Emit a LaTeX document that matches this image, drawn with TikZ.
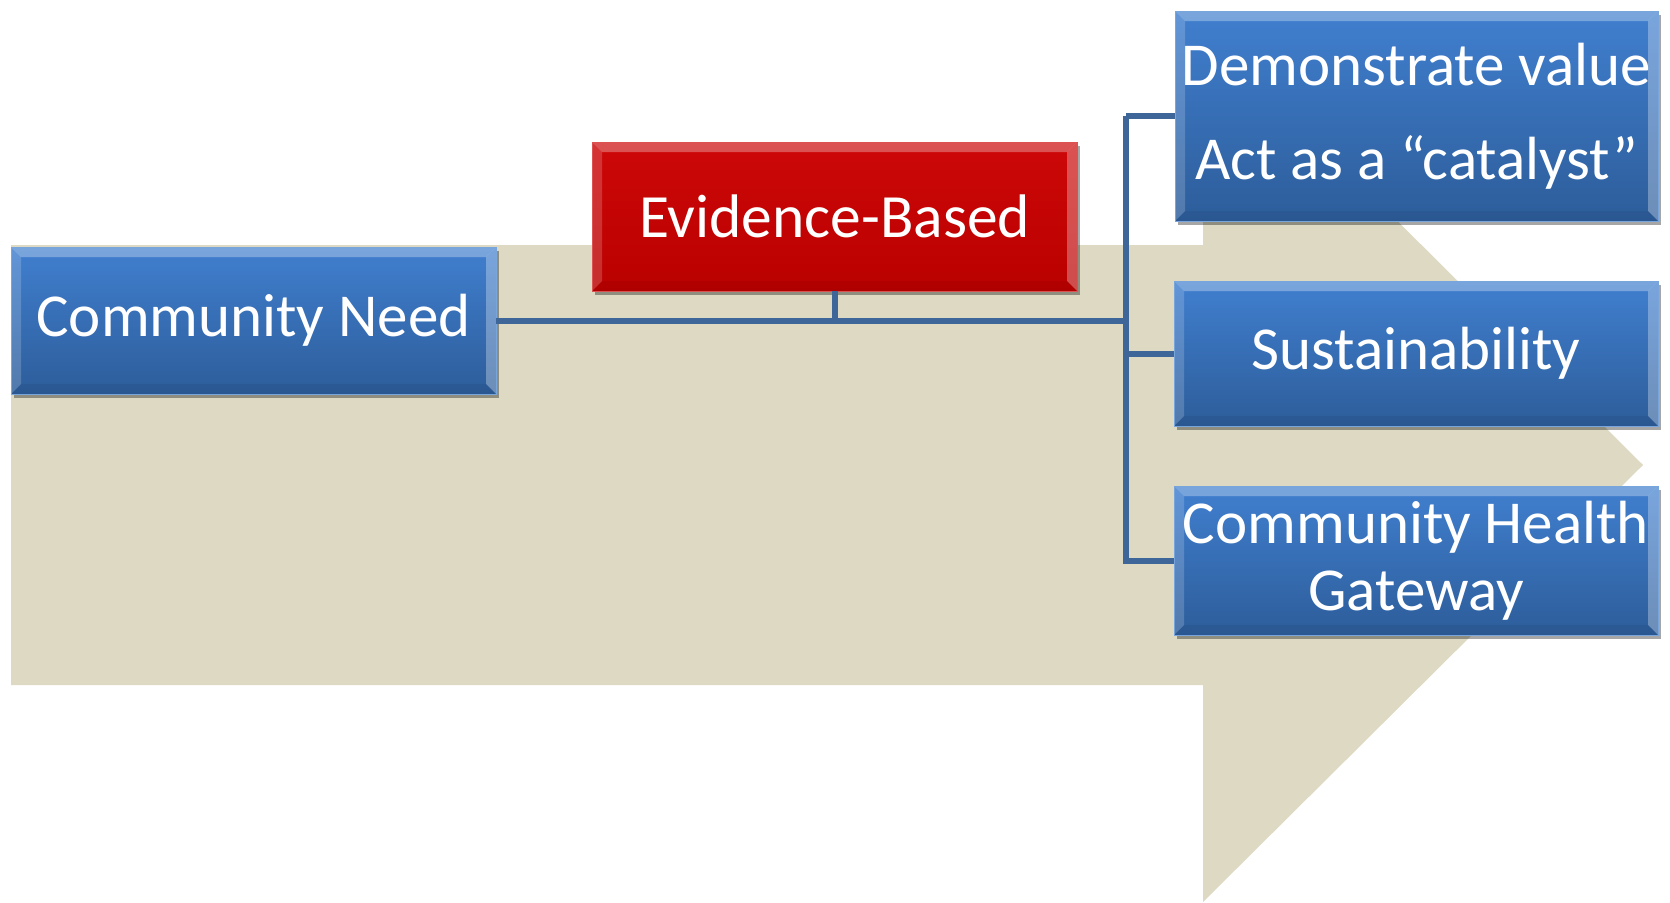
\documentclass[tikz,border=0pt]{standalone}
\usepackage{fontspec}
\setmainfont{Carlito}
\usetikzlibrary{shadows}
\definecolor{tanfill}{RGB}{221,217,195}
\definecolor{boxtop}{RGB}{64,127,207}
\definecolor{boxbot}{RGB}{45,93,154}
\definecolor{redtop}{RGB}{205,8,8}
\definecolor{redbot}{RGB}{186,0,0}
\definecolor{connc}{RGB}{62,102,152}
\tikzset{
  bevel/.style={path picture={
    \fill[white,opacity=0.30] (path picture bounding box.north west) -- (path picture bounding box.north east)
       -- ([xshift=-10pt,yshift=-10pt]path picture bounding box.north east) -- ([xshift=10pt,yshift=-10pt]path picture bounding box.north west) -- cycle;
    \fill[white,opacity=0.18] (path picture bounding box.north west) -- ([xshift=10pt,yshift=-10pt]path picture bounding box.north west)
       -- ([xshift=10pt,yshift=10pt]path picture bounding box.south west) -- (path picture bounding box.south west) -- cycle;
    \fill[white,opacity=0.30] (path picture bounding box.north east) -- ([xshift=-10pt,yshift=-10pt]path picture bounding box.north east)
       -- ([xshift=-10pt,yshift=10pt]path picture bounding box.south east) -- (path picture bounding box.south east) -- cycle;
    \fill[black,opacity=0.06] (path picture bounding box.south west) -- (path picture bounding box.south east)
       -- ([xshift=-10pt,yshift=10pt]path picture bounding box.south east) -- ([xshift=10pt,yshift=10pt]path picture bounding box.south west) -- cycle;
  }},
  basebox/.style={rectangle, inner sep=0pt, align=center, text=white,
    font=\fontsize{61}{72}\selectfont, bevel,
    drop shadow={shadow xshift=3pt, shadow yshift=-4pt, opacity=0.35, fill=black}},
  bluebox/.style={basebox, top color=boxtop, bottom color=boxbot, draw=boxtop!70!white, line width=0.8pt},
  redbox/.style={basebox, top color=redtop, bottom color=redbot, draw=redtop!70!white, line width=0.8pt},
  conn/.style={draw=connc, line width=6pt},
}
\begin{document}
\begin{tikzpicture}[x=1pt,y=-1pt]
\useasboundingbox (0,0) rectangle (1670,902);
% big background arrow
\fill[tanfill] (11,245) -- (1203,245) -- (1203,28) -- (1643,465) -- (1203,902) -- (1203,685) -- (11,685) -- cycle;

\coordinate (bus) at (1126,320.5);

\node[bluebox, minimum width=485pt, minimum height=147pt] (cn) at (253.5,320.5) {Community Need};
\node[redbox, minimum width=485pt, minimum height=149pt, font=\fontsize{61.5}{72}\selectfont] (eb) at (834.5,216.5) {Evidence-Based};
\node[bluebox, minimum width=483pt, minimum height=210pt, font=\fontsize{61}{94}\selectfont] (dv) at (1416.5,116) {Demonstrate value\\Act as a “catalyst”};
\node[bluebox, minimum width=484pt, minimum height=145pt] (su) at (1416,353.5) {Sustainability};
\node[bluebox, minimum width=484pt, minimum height=149pt, font=\fontsize{61}{67}\selectfont] (chg) at (1416,560.5) {Community Health\\Gateway};

\draw[conn] (cn.east) -- (bus);
\draw[conn] (eb.south) -- (eb.south |- cn.east);
\draw[conn] (bus |- dv.west) -- (dv.west);
\draw[conn] (bus) |- (su.west);
\draw[conn] (bus |- dv.west) -- (bus |- chg.west) -- (chg.west);
\end{tikzpicture}
\end{document}
